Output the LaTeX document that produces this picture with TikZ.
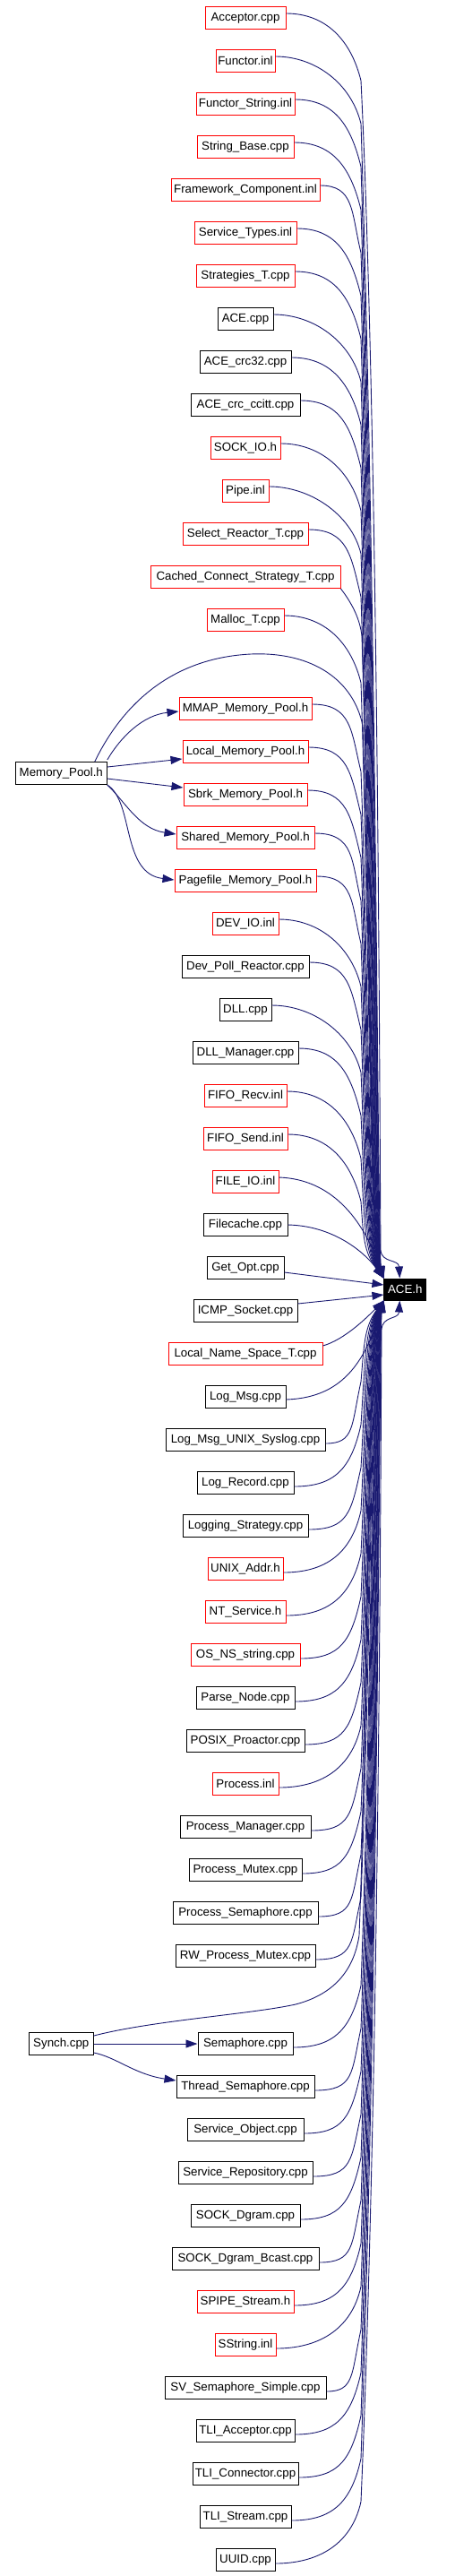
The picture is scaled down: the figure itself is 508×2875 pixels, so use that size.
\documentclass[tikz,border=0pt]{standalone}
\usepackage{fontspec}
\setmainfont{Liberation Sans}
\usetikzlibrary{arrows.meta}
\definecolor{edgeblue}{RGB}{25,25,112}
\begin{document}
\begin{tikzpicture}[x=1pt,y=-1pt,
  box/.style={draw, line width=1pt, minimum height=25pt, inner sep=0pt,
    font=\fontsize{13.3pt}{15pt}\selectfont, text=black},
  edge/.style={draw=edgeblue, line width=0.9pt},
  arr/.style={edge, -{Triangle[length=13pt,width=9pt]}}]
\useasboundingbox (0,0) rectangle (508,2875);

\node[box, draw=black, fill=black, text=white, minimum width=46.7pt, minimum height=24pt] (ace) at (452.3,1439) {ACE.h};

% upper generic nodes and edges
\foreach \nm/\lab/\Y/\xe/\cl/\k in {
  functor/Functor.inl/68/307/red/1,
  functorstr/Functor\_String.inl/116/329/red/2,
  stringbase/String\_Base.cpp/164/328/red/3,
  framework/Framework\_Component.inl/212/357/red/4,
  servicetypes/Service\_Types.inl/260/331/red/5,
  strategies/Strategies\_T.cpp/308/329/red/6,
  acecpp/ACE.cpp/356/305/black/7,
  crc32/ACE\_crc32.cpp/404/325/black/8,
  crcccitt/ACE\_crc\_ccitt.cpp/452/335/black/9,
  sockio/SOCK\_IO.h/500/313/red/10,
  pipe/Pipe.inl/548/300/red/11,
  selectreactor/Select\_Reactor\_T.cpp/596/344/red/12,
  malloc/Malloc\_T.cpp/692/317/red/14,
  mmap/MMAP\_Memory\_Pool.h/791/348/red/15,
  localmp/Local\_Memory\_Pool.h/839/344/red/16,
  sbrk/Sbrk\_Memory\_Pool.h/887/343/red/17,
  shared/Shared\_Memory\_Pool.h/935/351/red/18,
  pagefile/Pagefile\_Memory\_Pool.h/983/353/red/19,
  devio/DEV\_IO.inl/1031/311/red/20,
  devpoll/Dev\_Poll\_Reactor.cpp/1079/345/black/21,
  dll/DLL.cpp/1127/303/black/22,
  dllmgr/DLL\_Manager.cpp/1175/333/black/23,
  fiforecv/FIFO\_Recv.inl/1223/320/red/24,
  fifosend/FIFO\_Send.inl/1271/321/red/25}{
  \node[box, draw=\cl, minimum width={2*(\xe-274)}] (\nm) at (274,\Y) {\lab};
  \pgfmathsetmacro\cxa{min(\xe+45,396)}
  \pgfmathsetmacro\sy{\Y-5}
  \pgfmathsetmacro\py{\Y+70}
  \pgfmathsetmacro\cyb{\Y+25}
  \pgfmathsetmacro\qy{\py+0.45*(1427-\py)}
  \pgfmathsetmacro\X{422-0.65*\k}
  \draw[arr] ([yshift=5pt]\nm.east) .. controls (\cxa,\sy) and (392,\cyb) .. (403,\py)
     .. controls (\X,\qy) and (\X,1397) .. (ace.north west);
}

% lower generic nodes and edges
\foreach \nm/\lab/\Y/\xe/\cl/\k in {
  tlistream/TLI\_Stream.cpp/2809/325/black/1,
  tliconn/TLI\_Connector.cpp/2761/333/black/2,
  tliacc/TLI\_Acceptor.cpp/2713/329/black/3,
  svsem/SV\_Semaphore\_Simple.cpp/2665/364/black/4,
  sstring/SString.inl/2617/308/red/5,
  spipe/SPIPE\_Stream.h/2569/328/red/6,
  bcast/SOCK\_Dgram\_Bcast.cpp/2521/356/black/7,
  dgram/SOCK\_Dgram.cpp/2473/335/black/8,
  servrepo/Service\_Repository.cpp/2425/349/black/9,
  servobj/Service\_Object.cpp/2377/339/black/10,
  threadsem/Thread\_Semaphore.cpp/2329/351/black/11,
  semaphore/Semaphore.cpp/2281/327/black/12,
  rwmutex/RW\_Process\_Mutex.cpp/2183/352/black/13,
  procsem/Process\_Semaphore.cpp/2135/355/black/14,
  procmutex/Process\_Mutex.cpp/2087/337/black/15,
  procmgr/Process\_Manager.cpp/2039/347/black/16,
  procinl/Process.inl/1991/311/red/17,
  posix/POSIX\_Proactor.cpp/1943/340/black/18,
  parse/Parse\_Node.cpp/1895/329/black/19,
  osns/OS\_NS\_string.cpp/1847/335/red/20,
  ntserv/NT\_Service.h/1799/319/red/21,
  unixaddr/UNIX\_Addr.h/1751/316/red/22,
  logging/Logging\_Strategy.cpp/1703/344/black/23,
  logrecord/Log\_Record.cpp/1655/328/black/24,
  logunix/Log\_Msg\_UNIX\_Syslog.cpp/1607/363/black/25}{
  \node[box, draw=\cl, minimum width={2*(\xe-274)}] (\nm) at (274,\Y) {\lab};
  \pgfmathsetmacro\cxa{min(\xe+45,396)}
  \pgfmathsetmacro\sy{\Y+4}
  \pgfmathsetmacro\py{\Y-65}
  \pgfmathsetmacro\cyb{\Y-15}
  \pgfmathsetmacro\qy{\py-0.45*(\py-1451)}
  \pgfmathsetmacro\X{424-0.7*\k}
  \draw[arr] ([yshift=-4pt]\nm.east) .. controls (\cxa,\sy) and (392,\cyb) .. (403,\py)
     .. controls (\X,\qy) and (\X,1481) .. (ace.south west);
}

% special nodes
\node[box, draw=red, minimum width=90pt] (acceptor) at (274,20) {Acceptor.cpp};
\node[box, draw=red, minimum width=212pt] (cached) at (274,644) {Cached\_Connect\_Strategy\_T.cpp};
\node[box, draw=red, minimum width=74pt] (fileio) at (274,1319) {FILE\_IO.inl};
\node[box, draw=black, minimum width=94pt] (filecache) at (274,1367) {Filecache.cpp};
\node[box, draw=black, minimum width=86pt] (getopt) at (274,1415) {Get\_Opt.cpp};
\node[box, draw=black, minimum width=116pt] (icmp) at (274,1463) {ICMP\_Socket.cpp};
\node[box, draw=red, minimum width=172pt] (lns) at (274,1511) {Local\_Name\_Space\_T.cpp};
\node[box, draw=black, minimum width=90pt] (logmsg) at (274,1559) {Log\_Msg.cpp};
\node[box, draw=black, minimum width=66pt] (uuid) at (274,2857) {UUID.cpp};
\node[box, draw=black, minimum width=102pt] (mp) at (68.3,863) {Memory\_Pool.h};
\node[box, draw=black, minimum width=72pt] (synch) at (68.3,2281) {Synch.cpp};

% special edges
\draw[arr] ([yshift=5pt]acceptor.east) .. controls (364,15) and (392,45) .. (403,90)
   .. controls (423,500) and (424,1300) .. (425,1395)
   .. controls (426,1410) and (445,1405) .. ([xshift=-6pt]ace.north);
\draw[arr] (cached.south east) .. controls (392,672) and (402,690) .. (404,710)
   .. controls (414,1033) and (414,1397) .. (ace.north west);
\draw[arr] ([yshift=5pt]fileio.east) .. controls (370,1316) and (405,1360) .. (ace.north west);
\draw[arr] (filecache.east) .. controls (370,1368) and (405,1395) .. (ace.north west);
\draw[arr] ([yshift=-5pt]getopt.east) -- ([yshift=5pt]ace.west);
\draw[arr] ([yshift=8pt]icmp.east) -- ([yshift=-6pt]ace.west);
\draw[arr] ([yshift=9pt]lns.east) .. controls (385,1495) and (410,1470) .. (ace.south west);
\draw[arr] ([yshift=-3pt]logmsg.east) .. controls (375,1560) and (405,1530) .. (ace.south west);
\draw[arr] ([yshift=-4pt]uuid.east) .. controls (352,2861) and (392,2842) .. (403,2792)
   .. controls (424,2300) and (425,1600) .. (426,1484)
   .. controls (427,1468) and (445,1473) .. ([xshift=-6pt]ace.south);

% Memory_Pool.h edges
\draw[arr] ([xshift=-14pt]mp.north east) .. controls (130,800) and (180,735) .. (280,730)
   .. controls (350,727) and (395,760) .. (405,810)
   .. controls (414,1100) and (414,1397) .. (ace.north west);
\draw[arr] ([yshift=15pt]mp.east) .. controls (135,822) and (160,798) .. ([yshift=-3pt]mmap.west);
\draw[arr] ([yshift=7pt]mp.east) -- ([yshift=-8pt]localmp.west);
\draw[arr] ([yshift=-6pt]mp.east) -- ([yshift=8pt]sbrk.west);
\draw[arr] (mp.south east) .. controls (140,895) and (155,925) .. ([yshift=4pt]shared.west);
\draw[arr] (mp.south east) .. controls (150,895) and (135,975) .. ([yshift=1pt]pagefile.west);

% Synch.cpp edges
\draw[arr] ([yshift=9pt]synch.east) .. controls (170,2255) and (280,2248) .. (330,2237)
   .. controls (372,2226) and (395,2200) .. (401,2160)
   .. controls (411,1900) and (411,1481) .. (ace.south west);
\draw[arr] (synch.east) -- (semaphore.west);
\draw[arr] ([yshift=-10pt]synch.east) .. controls (130,2296) and (150,2315) .. ([yshift=7pt]threadsem.west);
\end{tikzpicture}
\end{document}
